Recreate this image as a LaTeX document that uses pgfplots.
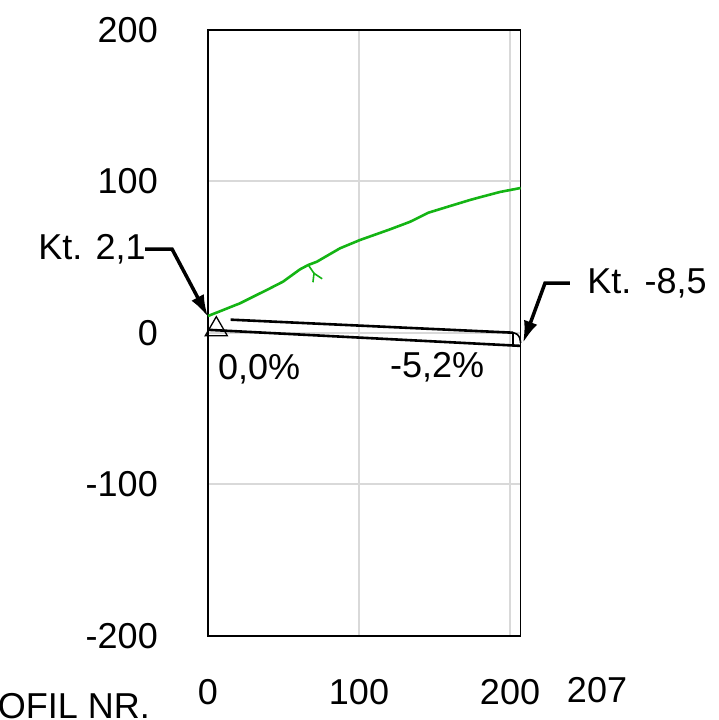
\documentclass[border=0pt]{standalone}
\usepackage{fontspec}
\setmainfont{Liberation Sans}
\usepackage{pgfplots}
\pgfplotsset{compat=1.18}
\usetikzlibrary{arrows.meta}
\newcommand\bigfont{\fontsize{36}{43}\selectfont}
\definecolor{terrain}{RGB}{20,180,20}
\definecolor{gridgray}{RGB}{217,217,217}
\begin{document}
\begin{tikzpicture}
\begin{axis}[name=ax, scale only axis, width=312.6pt, height=606pt,
  xmin=0, xmax=207, ymin=-200, ymax=200,
  xtick={0,100,200}, ytick={-200,-100,0,100,200},
  grid=major, grid style={gridgray, line width=2pt},
  axis line style={line width=1.6pt},
  major tick length=0pt,
  tick label style={font=\bigfont, inner sep=0pt},
  yticklabel style={xshift=-50pt},
  xticklabel style={yshift=-43pt},
  /pgf/number format/assume math mode=true,
  clip=false]
% terrain
\addplot[terrain, line width=2.6pt] coordinates {
 (0,11.2) (21.2,19.6) (41.1,29.5) (49.7,33.9) (60.9,42.0) (66.4,44.9)
 (72.0,47.0) (87.4,55.9) (100.7,61.4) (120.5,68.4) (133.8,73.4) (145.9,79.4)
 (160.3,83.8) (173.5,87.8) (180.1,89.6) (193.4,93.1) (207,95.7)};
\addplot[terrain, line width=1.6pt] coordinates {(66.4,44.9) (70.2,39.4) (69.5,33.5)};
\addplot[terrain, line width=1.6pt] coordinates {(70.2,39.4) (75.6,35.8)};
% profile lines
\addplot[black, line width=2.6pt] coordinates {(0,2.1) (207,-8.5)};
\addplot[black, line width=2.6pt] coordinates {(15,8.8) (202,0.2)};
\addplot[black, line width=1.6pt] coordinates {(202,0.2) (202,-7.5)};
\addplot[black, line width=1.6pt, smooth] coordinates {(202,0.2) (204.6,-0.8) (206.4,-3.2) (207,-6.6)};
\addplot[only marks, mark=triangle, mark size=12.7pt, mark options={black, line width=1.3pt}] coordinates {(5.5,2.4)};
% arrows
\addplot[black, line width=3.5pt, -{Latex[length=22pt,width=14pt]}] coordinates {(-41.7,55.4) (-23.8,55.4) (0,10.6)};
\addplot[black, line width=3.5pt, -{Latex[length=22pt,width=14pt]}] coordinates {(239.7,33.0) (223.2,33.0) (208.6,-6.6)};
% labels
\node[anchor=base east, font=\bigfont, inner sep=0pt] at (axis cs:-41.1,48.2) {Kt. 2,1};
\node[anchor=base west, font=\bigfont, inner sep=0pt] at (axis cs:251.0,26.4) {Kt. -8,5};
\node[anchor=base west, font=\bigfont, inner sep=0pt] at (axis cs:6.6,-31.0) {0,0\%};
\node[anchor=base west, font=\bigfont, inner sep=0pt] at (axis cs:120.5,-29.7) {-5,2\%};
\node[anchor=north, font=\bigfont, inner sep=0pt] at (axis cs:257.6,-227) {207};
\node[anchor=base east, font=\bigfont, inner sep=0pt] at (axis cs:-38.4,-254.5) {PROFIL NR.};
\end{axis}
\pgfresetboundingbox
\path ([shift={(-208pt,-84pt)}]ax.south west) rectangle ++(719pt,720pt);
\end{tikzpicture}
\end{document}
